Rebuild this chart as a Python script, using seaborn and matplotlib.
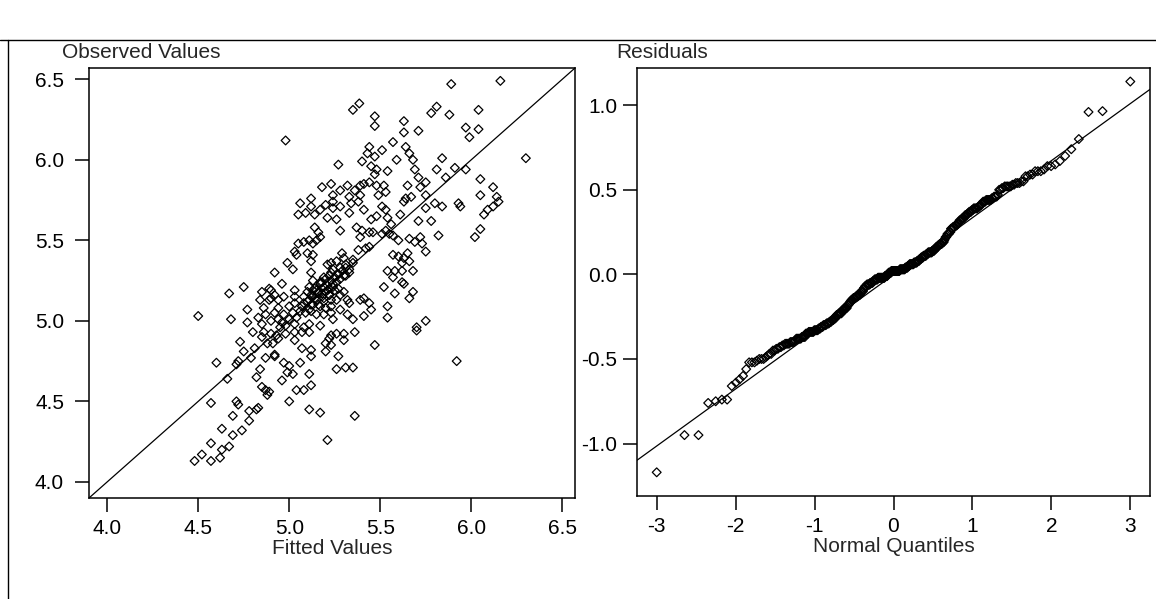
import matplotlib
matplotlib.use("Agg")
import matplotlib.pyplot as plt
from matplotlib.lines import Line2D
import seaborn as sns
import numpy as np
import pandas as pd
from statistics import NormalDist

# ── data (fitted vs observed) ───────────────────────────────────────
fitted = [
    4.98,
    5.35, 5.385, 5.47, 5.47, 5.44, 5.43, 5.47, 5.40, 5.45, 5.48, 5.47, 5.27,
    5.18, 5.23, 5.28, 5.32, 5.36, 5.39, 5.41, 5.44, 5.48, 5.12, 5.24, 5.33, 5.39, 5.49,
    5.89, 5.81, 5.78, 5.88, 5.63, 5.63, 5.71, 5.57, 5.51, 5.64, 5.66, 5.68, 5.69, 5.71,
    5.75, 5.72, 5.65, 5.59, 5.54, 5.84, 5.81, 5.91, 5.86, 5.52, 5.53, 5.67, 5.64, 5.75,
    6.16, 6.04, 5.97, 5.99, 6.04, 6.30, 5.97, 6.05, 6.12, 6.05, 6.14,
    5.94, 6.07, 6.09, 6.12, 6.15, 6.02, 6.05,
    5.51, 5.53, 5.63, 5.75, 5.80, 5.84, 5.93, 5.61, 5.71, 5.78, 5.54, 5.56, 5.53, 5.51,
    5.55, 5.57, 5.60, 5.82, 5.66, 5.72, 5.69, 5.73, 5.75, 5.57, 5.60, 5.63, 5.65, 5.66,
    5.62, 5.54, 5.58, 5.62, 5.57, 5.68, 5.63, 5.62, 5.52, 5.58, 5.68, 5.66, 5.54, 5.54,
    5.75, 5.70, 5.70, 5.92,
    5.07, 5.11, 5.22, 5.23, 5.26, 5.30, 5.36, 5.20, 5.23, 5.30, 5.47, 5.07, 5.12, 5.12,
    5.20, 5.27, 5.26, 5.31, 5.35, 5.11, 5.06, 5.08, 5.12, 5.11, 5.17, 5.36, 5.21,
    4.60, 4.73, 4.80, 4.85, 4.86, 4.88, 4.91, 4.92, 4.94, 4.98, 5.03, 5.03, 4.75, 4.72,
    4.71, 4.79, 4.81, 4.66, 4.87, 4.92, 4.84, 4.82, 4.97, 5.00, 5.02, 4.99, 4.96, 5.04,
    4.85, 4.87, 4.89, 4.88, 5.00, 4.57, 4.71, 4.72, 4.83, 4.82, 4.78, 4.78, 4.69, 4.74,
    4.63, 4.69, 4.67, 4.57, 4.63, 4.62, 4.57, 4.52, 4.48,
    5.05, 5.05, 5.03, 5.04, 4.99, 5.02, 4.92, 4.75, 4.67, 4.50,
    4.96, 4.89, 4.90, 4.85, 4.92, 4.84, 4.89, 4.90, 4.94, 4.97, 5.03, 5.03, 4.86, 4.77,
    4.83, 4.87, 4.92, 4.94, 4.97, 5.00, 5.03, 4.68, 4.77, 4.85, 4.90, 4.94, 4.96, 5.00, 5.03,
    5.06, 5.09, 5.12, 5.14, 5.17, 5.20, 5.24, 5.24, 5.28, 5.33, 5.34, 5.45, 5.48, 5.21, 5.26,
    5.14, 5.16, 5.17, 5.15, 5.13, 5.11, 5.08, 5.28, 5.37, 5.40, 5.44, 5.46, 5.39, 5.38,
    5.42, 5.44,
    5.10, 5.13, 5.12, 5.29, 5.30, 5.26, 5.23, 5.21, 5.24, 5.28, 5.31, 5.33, 5.35, 5.31,
    5.27, 5.22, 5.19, 5.17, 5.13, 5.11, 5.15, 5.10,
    5.12, 5.14, 5.16, 5.18, 5.19, 5.21, 5.22, 5.23, 5.13, 5.17, 5.20, 5.23, 5.11, 5.08,
    5.07, 5.09, 5.12, 5.15, 5.19, 5.23, 5.26, 5.28, 5.30, 5.27, 5.24,
    5.32, 5.33, 5.39, 5.41, 5.44, 5.45, 5.41, 5.32, 5.28, 5.24, 5.35, 5.17, 5.11, 5.08,
    5.38, 5.41, 5.12,
    # overlapping marks in the dark central blob, along the diagonal
    5.10, 5.12, 5.13, 5.15, 5.16, 5.18, 5.19, 5.20, 5.21, 5.22, 5.23, 5.24, 5.25, 5.26,
    5.27, 5.28, 5.29, 5.30, 5.14, 5.17, 5.20, 5.06, 5.04, 5.02, 4.98, 4.95, 4.93, 4.90,
    5.08, 5.11, 5.16, 5.19, 5.22, 5.25, 5.31, 5.33, 5.35, 5.13, 5.18, 5.23,
]
observed = [
    6.12,
    6.31, 6.35, 6.27, 6.21, 6.08, 6.04, 6.02, 5.99, 5.96, 5.94, 5.91, 5.97,
    5.83, 5.85, 5.81, 5.84, 5.81, 5.84, 5.85, 5.86, 5.84, 5.76, 5.78, 5.77, 5.78, 5.78,
    6.47, 6.33, 6.29, 6.28, 6.24, 6.17, 6.18, 6.11, 6.06, 6.08, 6.04, 6.00, 5.94, 5.89,
    5.86, 5.83, 5.84, 6.00, 5.93, 6.01, 5.94, 5.95, 5.89, 5.84, 5.80, 5.77, 5.76, 5.78,
    6.49, 6.31, 6.20, 6.14, 6.19, 6.01, 5.94, 5.88, 5.83, 5.78, 5.77,
    5.71, 5.66, 5.69, 5.71, 5.74, 5.52, 5.57,
    5.71, 5.69, 5.74, 5.70, 5.73, 5.71, 5.73, 5.66, 5.62, 5.62, 5.64, 5.60, 5.56, 5.54,
    5.54, 5.53, 5.50, 5.53, 5.51, 5.52, 5.49, 5.48, 5.43, 5.41, 5.40, 5.39, 5.42, 5.37,
    5.36, 5.31, 5.31, 5.31, 5.27, 5.31, 5.23, 5.24, 5.21, 5.17, 5.18, 5.14, 5.09, 5.02,
    5.00, 4.96, 4.94, 4.75,
    4.93, 4.93, 4.89, 4.91, 4.92, 4.92, 4.93, 4.86, 4.85, 4.88, 4.85, 4.83, 4.82, 4.78,
    4.81, 4.78, 4.70, 4.71, 4.71, 4.67, 4.74, 4.57, 4.60, 4.45, 4.43, 4.41, 4.26,
    4.74, 4.87, 4.93, 4.90, 4.93, 4.86, 4.86, 4.79, 4.89, 4.92, 4.88, 4.93, 4.81, 4.75,
    4.73, 4.77, 4.83, 4.64, 4.77, 4.78, 4.70, 4.65, 4.74, 4.72, 4.67, 4.68, 4.63, 4.57,
    4.59, 4.57, 4.56, 4.54, 4.50, 4.49, 4.50, 4.48, 4.46, 4.45, 4.44, 4.38, 4.41, 4.32,
    4.33, 4.29, 4.22, 4.24, 4.20, 4.15, 4.13, 4.17, 4.13,
    5.66, 5.48, 5.43, 5.41, 5.36, 5.32, 5.30, 5.21, 5.17, 5.03,
    5.23, 5.20, 5.19, 5.18, 5.16, 5.13, 5.13, 5.14, 5.13, 5.15, 5.19, 5.15, 5.08, 5.07,
    5.02, 5.04, 5.05, 5.08, 5.04, 5.09, 5.11, 5.01, 4.99, 4.98, 5.00, 5.01, 4.99, 5.01, 4.98,
    5.73, 5.67, 5.71, 5.66, 5.69, 5.72, 5.70, 5.74, 5.71, 5.67, 5.73, 5.63, 5.65, 5.64, 5.63,
    5.58, 5.55, 5.52, 5.50, 5.48, 5.50, 5.49, 5.56, 5.58, 5.56, 5.55, 5.55, 5.52, 5.44,
    5.45, 5.46,
    5.42, 5.41, 5.30, 5.42, 5.39, 5.37, 5.36, 5.35, 5.32, 5.33, 5.35, 5.32, 5.38, 5.28,
    5.29, 5.28, 5.27, 5.24, 5.25, 5.21, 5.19, 5.18,
    5.16, 5.14, 5.17, 5.15, 5.12, 5.19, 5.16, 5.13, 5.10, 5.09, 5.08, 5.09, 5.13, 5.15,
    5.09, 5.05, 5.06, 5.04, 5.04, 5.05, 5.13, 5.16, 5.18, 5.20, 5.23,
    5.13, 5.11, 5.13, 5.14, 5.11, 5.07, 5.03, 5.04, 5.07, 5.01, 5.01, 4.97, 4.98, 4.96,
    5.74, 5.69, 5.37,
    5.12, 5.10, 5.15, 5.13, 5.18, 5.17, 5.21, 5.18, 5.22, 5.20, 5.25, 5.21, 5.27, 5.24,
    5.29, 5.26, 5.31, 5.28, 5.20, 5.23, 5.26, 5.06, 5.02, 5.05, 4.97, 4.96, 4.91, 4.92,
    5.11, 5.07, 5.10, 5.14, 5.16, 5.19, 5.33, 5.30, 5.36, 5.19, 5.24, 5.30,
]

lim_left = [3.90, 6.57]
ticks_left = [4.0, 4.5, 5.0, 5.5, 6.0, 6.5]
lim_qq_x = [-3.25, 3.25]
lim_qq_y = [-1.31, 1.22]
ticks_qq_x = [-3, -2, -1, 0, 1, 2, 3]
ticks_qq_y = [-1.0, -0.5, 0.0, 0.5, 1.0]

df = pd.DataFrame({"fitted": fitted, "observed": observed})
df["resid"] = df["observed"] - df["fitted"]

# normal quantiles for the residuals, ppoints (i - 0.5) / n
nd = NormalDist()
res = np.sort(df["resid"].values)
n = len(res)
qq = pd.DataFrame({"quant": [nd.inv_cdf((i - 0.5) / n) for i in range(1, n + 1)],
                   "resid": res})
# qqline through the quartiles
y1, y2 = np.percentile(res, [25, 75])
x1, x2 = nd.inv_cdf(0.25), nd.inv_cdf(0.75)
slope = (y2 - y1) / (x2 - x1)
icpt = y1 - slope * x1

# ── figure ──────────────────────────────────────────────────────────
sns.set_style("ticks")
plt.rcParams["font.family"] = ["Liberation Sans", "DejaVu Sans"]
W, H = 1156, 599
fig = plt.figure(figsize=(W / 100, H / 100), dpi=100)

ax1 = fig.add_axes([89 / W, 1 - 498 / H, (575 - 89) / W, (498 - 68) / H])
ax2 = fig.add_axes([637 / W, 1 - 496 / H, (1150 - 637) / W, (496 - 68) / H])

mk = dict(marker="D", s=20, facecolor="none", edgecolor="black", linewidth=0.9)

sns.scatterplot(data=df, x="fitted", y="observed", ax=ax1, **mk)
ax1.axline((4.0, 4.0), slope=1, color="black", lw=0.9)
ax1.set_xlim(lim_left)
ax1.set_ylim(lim_left)
ax1.set_xticks(ticks_left)
ax1.set_yticks(ticks_left)
ax1.set_xticklabels([f"{t:.1f}" for t in ticks_left])
ax1.set_yticklabels([f"{t:.1f}" for t in ticks_left])
ax1.set_xlabel("Fitted Values")
ax1.set_ylabel("")

sns.scatterplot(data=qq, x="quant", y="resid", ax=ax2, **mk)
ax2.axline((0, icpt), slope=slope, color="black", lw=0.9)
ax2.set_xlim(lim_qq_x)
ax2.set_ylim(lim_qq_y)
ax2.set_xticks(ticks_qq_x)
ax2.set_yticks(ticks_qq_y)
ax2.set_xticklabels([str(t) for t in ticks_qq_x])
ax2.set_yticklabels([f"{t:.1f}" for t in ticks_qq_y])
ax2.set_xlabel("Normal Quantiles")
ax2.set_ylabel("")

for ax in (ax1, ax2):
    for sp in ax.spines.values():
        sp.set_visible(True)
        sp.set_linewidth(1.1)
        sp.set_color("black")
    ax.tick_params(direction="out", length=10, width=1.1, labelsize=15,
                   colors="black")
    ax.tick_params(axis="x", pad=5)
    ax.xaxis.label.set_size(15)
    ax.xaxis.labelpad = 1
ax1.tick_params(axis="y", pad=8)
ax2.tick_params(axis="y", pad=4)

fig.text(62 / W, 1 - 52 / H, "Observed Values", fontsize=15, va="center")
fig.text(616 / W, 1 - 52 / H, "Residuals", fontsize=15, va="center")

# scan frame lines
fig.add_artist(Line2D([0, 1], [1 - 40 / H, 1 - 40 / H], color="black", lw=1))
fig.add_artist(Line2D([8 / W, 8 / W], [0, 1 - 40 / H], color="black", lw=1))

fig.savefig("out.png", dpi=100)
